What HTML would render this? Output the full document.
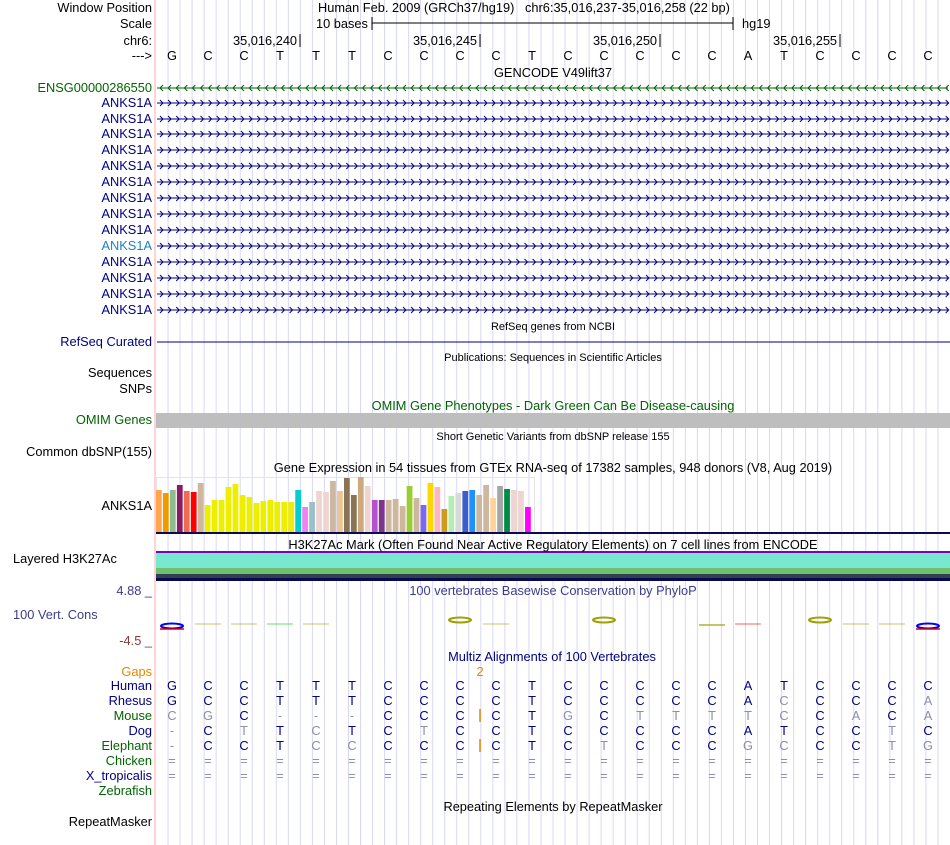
<!DOCTYPE html>
<html><head><meta charset="utf-8">
<style>
body{margin:0;background:#fff;width:950px;height:845px;overflow:hidden;position:relative;font-family:"Liberation Sans",sans-serif;font-size:12.8px}
.t{position:absolute;white-space:nowrap;line-height:14px}
.l{position:absolute;right:798px;white-space:nowrap;line-height:14px;text-align:right}
.c{position:absolute;white-space:nowrap;line-height:14px;transform:translateX(-50%)}
</style></head><body>
<svg id="bg" width="950" height="845" style="position:absolute;left:0;top:0"></svg>
<div id="txt"></div>
<script>
const bases=["G","C","C","T","T","T","C","C","C","C","T","C","C","C","C","C","A","T","C","C","C","C"];
const gtexVals=[43,40,43,48,42,41,50,28,33,33,46,49,38,36,30,32,33,31,31,31,43,26,31,42,41,52,42,55,38,56,47,33,33,33,34,27,47,35,28,50,46,24,37,40,42,43,38,48,35,47,44,43,42,26];
const gtexColors=["#FFA54F","#EE9A00","#8FBC8F","#8B1C62","#EE6A50","#FF0000","#CDB79E","#EEEE00","#EEEE00","#EEEE00","#EEEE00","#EEEE00","#EEEE00","#EEEE00","#EEEE00","#EEEE00","#EEEE00","#EEEE00","#EEEE00","#EEEE00","#00CED1","#EE82EE","#9AC0CD","#EED5D2","#EED5D2","#CDB79E","#EEC591","#8B7355","#8B7355","#CDAA7D","#EED5D2","#B452CD","#7A378B","#CDB79E","#CDB79E","#CDB79E","#9ACD32","#CDB79E","#7B68EE","#FFD700","#FFB6C1","#CD9B1D","#B4EEB4","#D9D9D9","#3A5FCD","#1E90FF","#CDB79E","#CDB79E","#FFD39B","#A6A6A6","#008B45","#EED5D2","#EED5D2","#FF00FF"];
const species=["Human","Rhesus","Mouse","Dog","Elephant","Chicken","X_tropicalis","Zebrafish"];
const speciesSeq=["GCCTTTCCCCTCCCCCATCCCC","GCCTTTCCCCTCCCCCACCCCA","CGC---CCCCTGCTTTTCCACA","-CTTCTCTCCTCCCCCATCCTC","-CCTCCCCCCTCTCCCGCCCTG","======================","======================",""];
const speciesMatch=["1111111111111111111111","1111111111111111101110","0010001111101000001010","0101011011111111111101","0111001111110111001100","0000000000000000000000","0000000000000000000000",""];
const speciesColors=["#000080","#000080","#006400","#000080","#006400","#006400","#000080","#006400"];
const consMarks=[[0,"#0000ff",4],[1,"#a0a000",1],[2,"#a0a000",1],[3,"#00cc00",1],[4,"#a0a000",1],[8,"#a0a000",3],[9,"#a0a000",1],[12,"#a0a000",3],[15,"#a0a000",2],[16,"#e00000",1],[18,"#a0a000",3],[19,"#a0a000",1],[20,"#a0a000",1],[21,"#0000ff",4]];

const NS="http://www.w3.org/2000/svg";
const svg=document.getElementById('bg');
const X0=156,X1=950;
function bx(i){return 172+36*i;}
function el(tag,attrs){const e=document.createElementNS(NS,tag);for(const k in attrs)e.setAttribute(k,attrs[k]);svg.appendChild(e);return e;}
for(let k=1;k<66;k++){const x=X0+k*794/66;const g=el('line',{x1:x,y1:0,x2:x,y2:845,stroke:'#d8d8f4','stroke-width':1});
}
const sep=el('line',{x1:155,y1:0,x2:155,y2:845,stroke:'#ffaaaa','stroke-width':1});

el('line',{x1:372,y1:23,x2:733,y2:23,stroke:'#000'});el('line',{x1:372,y1:17,x2:372,y2:30,stroke:'#000'});el('line',{x1:733,y1:17,x2:733,y2:30,stroke:'#000'});
[300,480,660,840].forEach(x=>el('line',{x1:x,y1:34,x2:x,y2:47,stroke:'#000'}));
function gene(y,color,dir){el('line',{x1:157,y1:y,x2:948,y2:y,stroke:color,'stroke-width':1});
let d='';for(let x=160;x<946;x+=8.1){d+=dir>0?`M${x},${y-3}L${x+3},${y}L${x},${y+3}`:`M${x+3},${y-3}L${x},${y}L${x+3},${y+3}`;}
const p=el('path',{d:d,stroke:color,fill:'none','stroke-width':1});}
gene(88,'#006400',-1);
const ay=[103,119,134,150,166,182,198,214,230,246,262,278,294,310];
ay.forEach((y,i)=>gene(y,'#000080',1));
el('line',{x1:157,y1:342,x2:950,y2:342,stroke:'#000080'});
const om=el('rect',{x:156,y:413,width:794,height:15,fill:'#bebebe'});
el('rect',{x:156.5,y:477.5,width:378,height:56,fill:'none',stroke:'#e4e4e4'});
const gB=533,gw=376/54;
gtexVals.forEach((v,i)=>{const r=el('rect',{x:X0+i*gw,y:gB-v,width:gw-1.2,height:v,fill:gtexColors[i]});
});
el('rect',{x:156,y:532,width:794,height:2,fill:'#0a0a50'});
el('rect',{x:156,y:551,width:794,height:2,fill:'#7700cc'});
el('rect',{x:156,y:553,width:794,height:15,fill:'#78e8ce'});
el('rect',{x:156,y:568,width:794,height:6,fill:'#70c070'});
el('rect',{x:156,y:574,width:794,height:4,fill:'#304050'});
el('rect',{x:156,y:578,width:794,height:3,fill:'#0a0a50'});
consMarks.forEach(m=>{const [i,c,s]=m;const x=bx(i);
if(s>=3){const e=el('ellipse',{cx:x,cy:s==4?626:620,rx:11,ry:2.5,fill:'none',stroke:c,'stroke-width':2});
if(s==4)el('line',{x1:x-12,y1:629,x2:x+12,y2:629,stroke:'#e00000','stroke-width':1.5});}
else{const e=el('line',{x1:x-13,y1:s==2?625:624,x2:x+13,y2:s==2?625:624,stroke:c,'stroke-width':s==2?2:1,opacity:0.6});}});
el('line',{x1:480,y1:709,x2:480,y2:722,stroke:'#e08a00','stroke-width':1.5});
el('line',{x1:480,y1:739,x2:480,y2:752,stroke:'#e08a00','stroke-width':1.5});

const T=document.getElementById('txt');
function tx(cls,x,y,s,style,name){const d=document.createElement('div');d.className=cls;d.textContent=s;d.style.top=(y-7)+'px';
if(cls.indexOf('l')!==0)d.style.left=x+'px';if(style)d.style.cssText+=style;T.appendChild(d);return d;}
tx('l',0,8,'Window Position');tx('l',0,24,'Scale');tx('l',0,41,'chr6:');tx('l',0,56,'--->');
tx('t',318,8,'Human Feb. 2009 (GRCh37/hg19)   chr6:35,016,237-35,016,258 (22 bp)','white-space:pre','window-position');
tx('t',316,24,'10 bases');tx('t',742,24,'hg19');
[['35,016,240',300],['35,016,245',480],['35,016,250',660],['35,016,255',840]].forEach(a=>tx('t',a[1]-67,41,a[0],'','chr-tick-label'));
bases.forEach((b,i)=>tx('c',bx(i),56,b,'','base-letter'));
tx('c',553,73,'GENCODE V49lift37','','track-title');
tx('l',0,88,'ENSG00000286550','color:#006400','gene-label');
ay.forEach((y,i)=>tx('l',0,y,'ANKS1A',i==9?'color:#1e82c0':'color:#000080','gene-label'));
tx('c',553,327,'RefSeq genes from NCBI','font-size:11px','track-title');
tx('l',0,342,'RefSeq Curated','color:#000080');
tx('c',553,358,'Publications: Sequences in Scientific Articles','font-size:11px','track-title');
tx('l',0,373,'Sequences');tx('l',0,389,'SNPs');
tx('c',553,406,'OMIM Gene Phenotypes - Dark Green Can Be Disease-causing','color:#006400','track-title');
tx('l',0,420,'OMIM Genes','color:#006400');
tx('c',553,437,'Short Genetic Variants from dbSNP release 155','font-size:11px','track-title');
tx('l',0,452,'Common dbSNP(155)');
tx('c',553,468,'Gene Expression in 54 tissues from GTEx RNA-seq of 17382 samples, 948 donors (V8, Aug 2019)','','track-title');
tx('l',0,506,'ANKS1A');
tx('c',553,545,'H3K27Ac Mark (Often Found Near Active Regulatory Elements) on 7 cell lines from ENCODE','','track-title');
tx('t',13,559,'Layered H3K27Ac');
tx('l',0,591,'4.88 _','color:#3c3c8c');
tx('t',13,615,'100 Vert. Cons','color:#3c3c8c');
tx('l',0,641,'-4.5 _','color:#8b3a3a');
tx('c',553,591,'100 vertebrates Basewise Conservation by PhyloP','color:#3c3c8c','track-title');
tx('c',552,657,'Multiz Alignments of 100 Vertebrates','color:#000080','track-title');
tx('l',0,672,'Gaps','color:#e08a00');tx('c',480,672,'2','color:#e08a00');
species.forEach((sp,r)=>{const y=686+r*15;tx('l',0,y,sp,'color:'+speciesColors[r],'species-label');
for(let i=0;i<speciesSeq[r].length;i++){const m=speciesMatch[r][i]=='1';tx('c',bx(i),y,speciesSeq[r][i],m?'color:#000080':'color:#8c8cb4','alignment-base');}});
tx('c',553,807,'Repeating Elements by RepeatMasker','','track-title');
tx('l',0,822,'RepeatMasker');
</script>
</body></html>
